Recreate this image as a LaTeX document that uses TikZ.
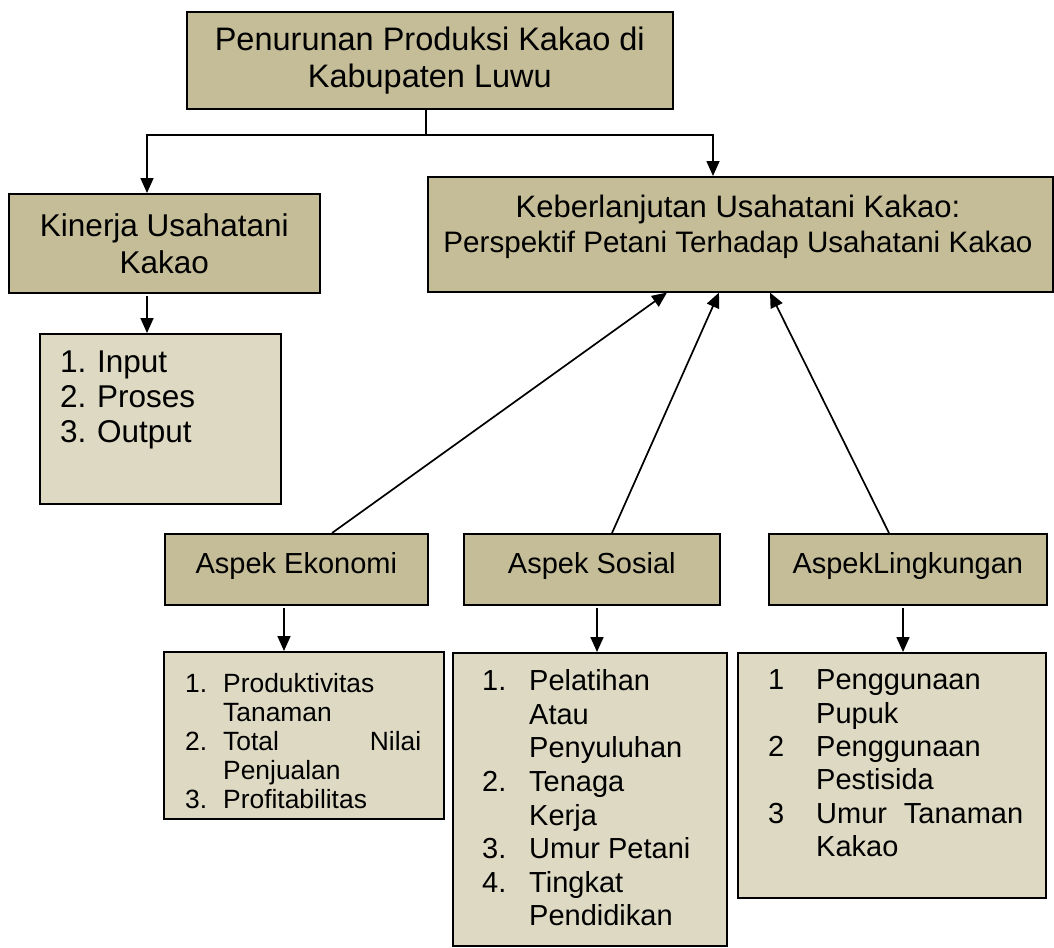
\documentclass[tikz,border=0pt]{standalone}
\usepackage{fontspec}
\setmainfont{Liberation Sans}
\usetikzlibrary{arrows.meta,calc}
\definecolor{tanD}{HTML}{C4BD97}
\definecolor{tanL}{HTML}{DDD9C3}
\begin{document}
\begin{tikzpicture}[x=1pt,y=-1pt,
  dk/.style={draw=black, line width=1.6pt, fill=tanD, inner sep=0pt, anchor=north west},
  lt/.style={draw=black, line width=1.6pt, fill=tanL, inner sep=0pt, anchor=north west},
  arr/.style={line width=1.7pt, -{Triangle[length=15pt,width=13pt]}},
  ln/.style={line width=1.7pt},
  txt/.style={inner sep=0pt, align=left, anchor=north west},
  asp/.style={dk, minimum height=71pt, font=\fontsize{29}{33}\selectfont, text depth=13.5pt}]
\useasboundingbox (0,0) rectangle (1054,947);

% top box
\node[dk, minimum width=486pt, minimum height=97pt, align=center,
      font=\fontsize{32.5}{37}\selectfont] (top) at (186,11)
      {Penurunan Produksi Kakao di\\Kabupaten Luwu};

% Kinerja
\node[dk, minimum width=311pt, minimum height=99pt, align=center,
      font=\fontsize{31.5}{37}\selectfont] (kin) at (8,193)
      {Kinerja Usahatani\\Kakao};

% Keberlanjutan
\node[dk, minimum width=625pt, minimum height=115pt] (keb) at (427,176) {};
\node[inner sep=0pt, anchor=north, align=center, font=\fontsize{31}{35}\selectfont] (kebT) at (738,194.5)
  {Keberlanjutan Usahatani Kakao:\\ \fontsize{29.6}{35}\selectfont Perspektif Petani Terhadap Usahatani Kakao};

% Kinerja list
\node[lt, minimum width=241pt, minimum height=170pt] (kl) at (39,333) {};
\node[txt, font=\fontsize{31.5}{35}\selectfont] (klT) at (60,351)
  {\makebox[37pt][l]{1.}Input\\\makebox[37pt][l]{2.}Proses\\\makebox[37pt][l]{3.}Output};

% aspects
\node[asp, minimum width=263pt] (eko) at (164,533) {Aspek Ekonomi};
\node[asp, minimum width=256pt] (soc) at (463,533) {Aspek Sosial};
\node[asp, minimum width=278pt] (lin) at (768,533) {AspekLingkungan};

% aspect lists
\node[lt, minimum width=280pt, minimum height=167pt] (ekoL) at (163,651) {};
\node[txt, font=\fontsize{26.4}{29}\selectfont] (ekoT) at (185,673)
  {\makebox[38pt][l]{1.}Produktivitas\\
   \hspace*{38pt}Tanaman\\
   \makebox[38pt][l]{2.}\makebox[198pt][s]{Total\hfill Nilai}\\
   \hspace*{38pt}Penjualan\\
   \makebox[38pt][l]{3.}Profitabilitas};

\node[lt, minimum width=274pt, minimum height=293pt] (socL) at (452,652) {};
\node[txt, font=\fontsize{29}{33.6}\selectfont] (socT) at (482,669.5)
  {\makebox[47pt][l]{1.}Pelatihan\\
   \hspace*{47pt}Atau\\
   \hspace*{47pt}Penyuluhan\\
   \makebox[47pt][l]{2.}Tenaga\\
   \hspace*{47pt}Kerja\\
   \makebox[47pt][l]{3.}Umur Petani\\
   \makebox[47pt][l]{4.}Tingkat\\
   \hspace*{47pt}Pendidikan};

\node[lt, minimum width=308pt, minimum height=245pt] (linL) at (737,652) {};
\node[txt, font=\fontsize{29}{33.4}\selectfont] (linT) at (768,669.5)
  {\makebox[48pt][l]{1}Penggunaan\\
   \hspace*{48pt}Pupuk\\
   \makebox[48pt][l]{2}Penggunaan\\
   \hspace*{48pt}Pestisida\\
   \makebox[48pt][l]{3}\makebox[207pt][s]{Umur\hfill Tanaman}\\
   \hspace*{48pt}Kakao};

% connectors
\coordinate (hub) at (426,135);
\draw[ln] (hub |- top.south) -- (hub);
\draw[arr] (hub) -| ($(kin.north west)+(139,0)$);
\draw[arr] (hub) -| ($(keb.north west)+(286,0)$);
\draw[arr] ($(kin.south west)+(139,2)$) -- ($(kl.north west)+(108,0)$);

\draw[arr] ($(eko.north west)+(168,0)$) -- ($(keb.south west)+(240,0)$);
\draw[arr] ($(soc.north west)+(149,0)$) -- ($(keb.south west)+(292,0)$);
\draw[arr] ($(lin.north west)+(121,0)$) -- ($(keb.south west)+(343,0)$);

\draw[arr] ($(eko.south west)+(120,2)$) -- ($(ekoL.north west)+(121,0)$);
\draw[arr] ($(soc.south west)+(134,2)$) -- ($(socL.north west)+(145,0)$);
\draw[arr] ($(lin.south west)+(135,2)$) -- ($(linL.north west)+(166,0)$);
\end{tikzpicture}
\end{document}
